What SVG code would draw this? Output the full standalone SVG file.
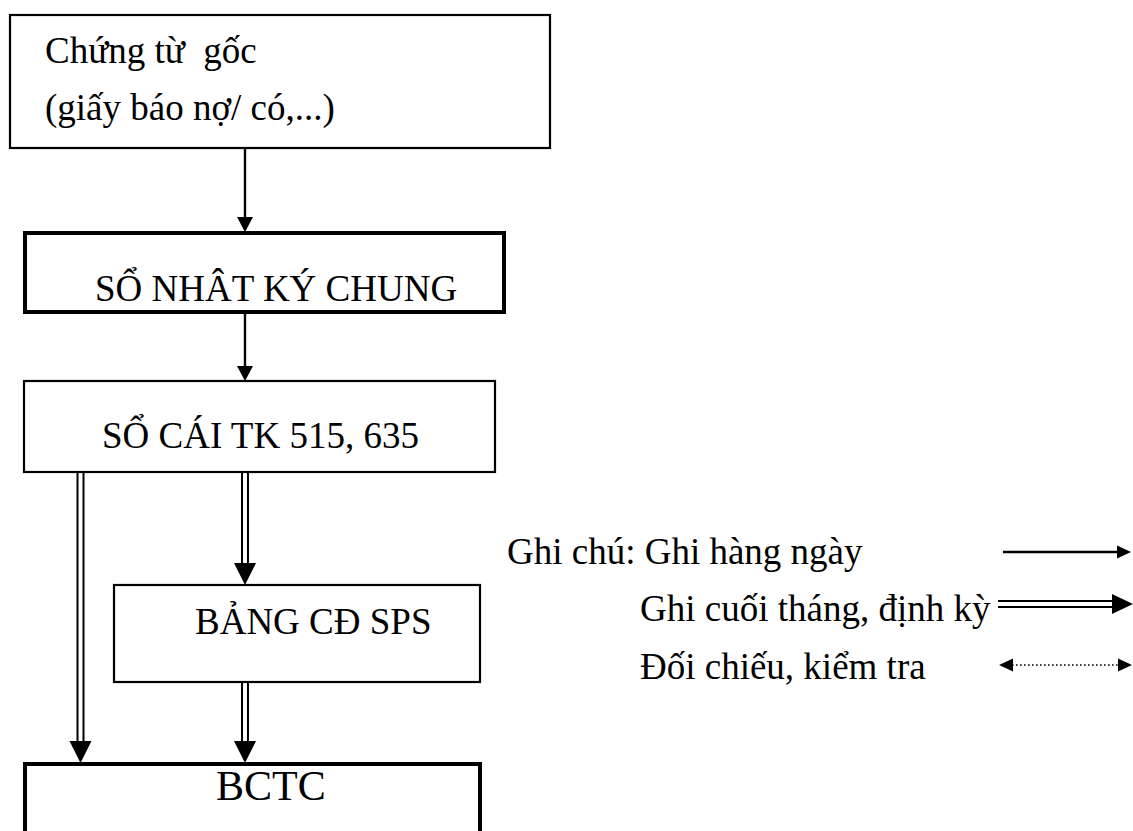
<svg xmlns="http://www.w3.org/2000/svg" width="1133" height="831" viewBox="0 0 1133 831">
  <style>
    .box { fill: #fff; stroke: #000; }
    .thin { stroke-width: 2.2; }
    .thick { stroke-width: 4; }
    .lbl { font-family: "Liberation Serif", "Times New Roman", serif; font-size: 37px; fill: #000; white-space: pre; }
    .big { font-size: 42px; }
    .ln { stroke: #000; stroke-width: 2.4; fill: none; }
    .dl { stroke: #000; stroke-width: 2; fill: none; }
    .dot { stroke: #000; stroke-width: 1.6; stroke-dasharray: 1.6 2.4; fill: none; }
  </style>
  <defs>
    <!-- small head for single-line arrows, tip at origin pointing down -->
    <polygon id="hd" points="0,0 -8,-15 8,-15" fill="#000"/>
    <!-- wide head for double-line arrows, tip at origin pointing down -->
    <polygon id="hdw" points="0,0 -11,-22 11,-22" fill="#000"/>
  </defs>

  <!-- connectors -->
  <g id="connectors">
    <!-- Chứng từ gốc -> Sổ nhật ký chung -->
    <line class="ln" x1="245" y1="148" x2="245" y2="220"/>
    <use href="#hd" x="245" y="232"/>
    <!-- Sổ nhật ký chung -> Sổ cái -->
    <line class="ln" x1="245" y1="312" x2="245" y2="368"/>
    <use href="#hd" x="245" y="381"/>
    <!-- Sổ cái -> BCTC (double) -->
    <line class="dl" x1="77.5" y1="472" x2="77.5" y2="742"/>
    <line class="dl" x1="83.5" y1="472" x2="83.5" y2="742"/>
    <use href="#hdw" x="80.5" y="763"/>
    <!-- Sổ cái -> Bảng CĐ SPS (double) -->
    <line class="dl" x1="242" y1="472" x2="242" y2="566"/>
    <line class="dl" x1="248" y1="472" x2="248" y2="566"/>
    <use href="#hdw" x="245" y="585"/>
    <!-- Bảng CĐ SPS -> BCTC (double) -->
    <line class="dl" x1="242" y1="682" x2="242" y2="744"/>
    <line class="dl" x1="248" y1="682" x2="248" y2="744"/>
    <use href="#hdw" x="245" y="763"/>
  </g>

  <g id="chung-tu-goc">
    <rect class="box thin" x="10" y="15" width="540" height="133"/>
    <text class="lbl" x="45" y="63" xml:space="preserve">Chứng từ  gốc</text>
    <text class="lbl" x="45" y="120">(giấy báo nợ/ có,...)</text>
  </g>

  <g id="so-nhat-ky-chung">
    <rect class="box thick" x="25" y="233" width="479" height="79"/>
    <text class="lbl" x="95" y="301">SỔ NHÂT KÝ CHUNG</text>
  </g>

  <g id="so-cai">
    <rect class="box thin" x="24" y="381" width="471" height="91"/>
    <text class="lbl" x="102" y="448">SỔ CÁI TK 515, 635</text>
  </g>

  <g id="bang-cd-sps">
    <rect class="box thin" x="114" y="585" width="366" height="97"/>
    <text class="lbl" x="195" y="634">BẢNG CĐ SPS</text>
  </g>

  <g id="bctc">
    <path class="box thick" d="M25,845 V764 H480 V845"/>
    <text class="lbl big" x="216" y="800">BCTC</text>
  </g>

  <g id="legend">
    <text class="lbl" x="507" y="564">Ghi chú: Ghi hàng ngày</text>
    <text class="lbl" x="640" y="621">Ghi cuối tháng, định kỳ</text>
    <text class="lbl" x="640" y="679">Đối chiếu, kiểm tra</text>
    <!-- daily -->
    <line class="ln" x1="1003" y1="552" x2="1120" y2="552"/>
    <polygon points="1131,552 1117,545.5 1117,558.5" fill="#000"/>
    <!-- periodic (double) -->
    <line class="dl" x1="998" y1="601" x2="1114" y2="601"/>
    <line class="dl" x1="998" y1="607" x2="1114" y2="607"/>
    <polygon points="1133,604 1112,594 1112,614" fill="#000"/>
    <!-- cross-check (dotted, both ends) -->
    <line class="dot" x1="1012" y1="665" x2="1120" y2="665"/>
    <polygon points="999,665 1013,658.5 1013,671.5" fill="#000"/>
    <polygon points="1132,665 1118,658.5 1118,671.5" fill="#000"/>
  </g>
</svg>
